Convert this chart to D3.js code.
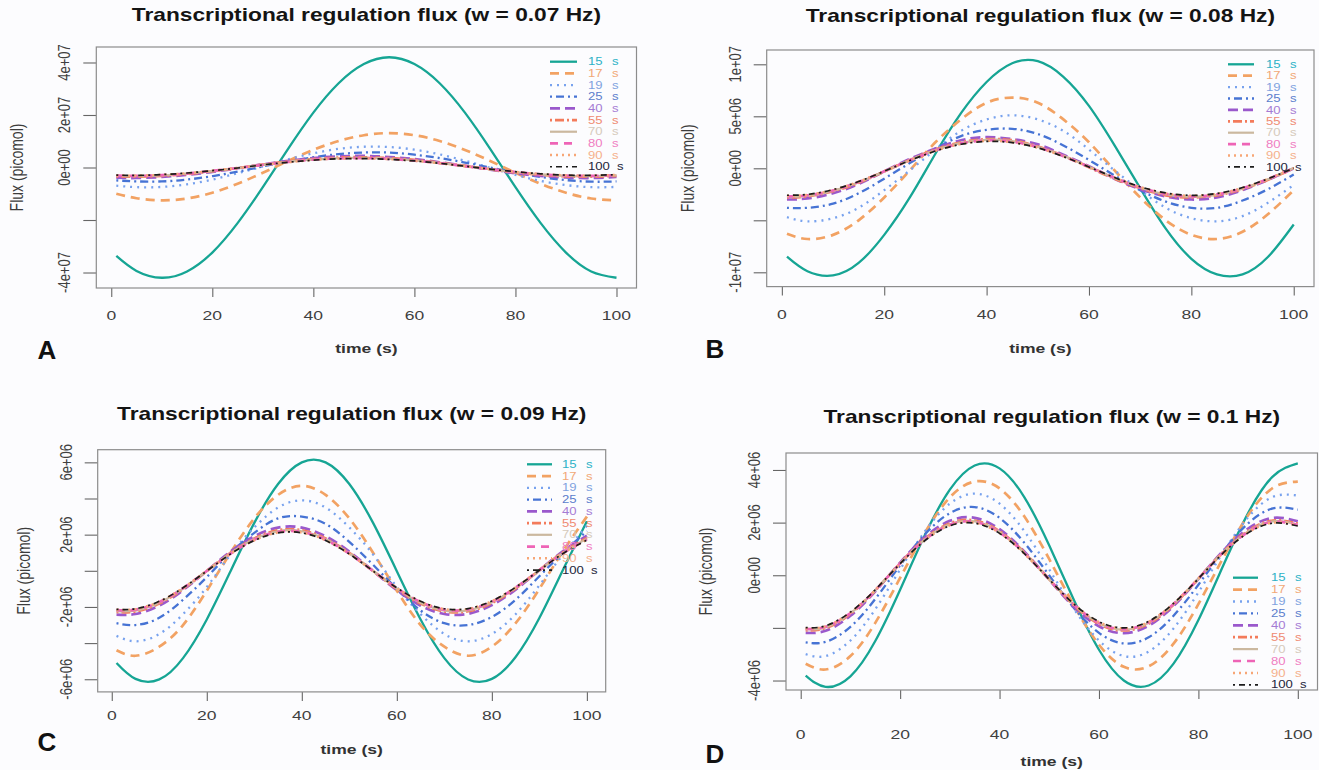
<!DOCTYPE html>
<html>
<head>
<meta charset="utf-8">
<script src="https://cdn.jsdelivr.net/npm/d3@7"></script>
<style>
  html, body { margin: 0; padding: 0; background: #fcfcfe; }
  svg { display: block; font-family: "Liberation Sans", Arial, Helvetica, sans-serif; }
</style>
</head>
<body>
<svg id="chart" width="1319" height="770"></svg>
<script>
// ---- data -------------------------------------------------------------
const timeSeconds = [1, 5, 10, 15, 20, 25, 30, 35, 40, 45, 50, 55, 60, 65, 70, 75, 80, 85, 90, 95, 100];
const delayLabels = ["15", "17", "19", "25", "40", "55", "70", "80", "90", "100"];
const panelLetters = ["A", "B", "C", "D"];
const frequencies = ["0.07", "0.08", "0.09", "0.1"];
const timeTicks = [0, 20, 40, 60, 80, 100];

// flux tick values are in units of 1e6 picomol
const fluxTicksA = [-40, -20, 0, 20, 40];
const fluxTickLabelsA = ["-4e+07", "", "0e+00", "2e+07", "4e+07"];
const fluxTicksB = [-10, -5, 0, 5, 10];
const fluxTickLabelsB = ["-1e+07", "", "0e+00", "5e+06", "1e+07"];
const fluxTicksC = [-6, -4, -2, 0, 2, 4, 6];
const fluxTickLabelsC = ["-6e+06", "", "-2e+06", "", "2e+06", "", "6e+06"];
const fluxTicksD = [-4, -2, 0, 2, 4];
const fluxTickLabelsD = ["-4e+06", "", "0e+00", "2e+06", "4e+06"];

// flux (1e6 picomol) at each time point, one row per delay (15 s ... 100 s)
const fluxA = [
  [-33.7, -39.4, -42.0, -39.6, -32.4, -21.2, -7.5, 7.1, 20.9, 32.1, 39.4, 42.0, 39.4, 32.1, 20.9, 7.1, -7.5, -21.2, -32.4, -39.6, -42.0],
  [-10.0, -11.7, -12.5, -11.8, -9.6, -6.2, -2.0, 2.5, 6.7, 10.1, 12.3, 13.1, 12.3, 10.1, 6.7, 2.5, -2.0, -6.2, -9.6, -11.8, -12.5],
  [-6.9, -7.5, -7.4, -6.4, -4.6, -2.2, 0.4, 3.1, 5.4, 7.1, 7.9, 7.8, 6.8, 5.0, 2.6, -0.1, -2.8, -5.1, -6.7, -7.5, -7.4],
  [-4.9, -5.3, -5.3, -4.6, -3.3, -1.6, 0.4, 2.3, 3.9, 5.1, 5.7, 5.7, 4.9, 3.6, 1.9, 0.0, -1.9, -3.6, -4.8, -5.4, -5.3],
  [-3.9, -4.0, -3.6, -2.8, -1.7, -0.3, 1.2, 2.5, 3.6, 4.2, 4.4, 4.0, 3.2, 2.0, 0.6, -0.8, -2.2, -3.2, -3.8, -4.0, -3.6],
  [-3.4, -3.5, -3.2, -2.5, -1.4, -0.2, 1.1, 2.3, 3.2, 3.8, 3.9, 3.6, 2.9, 1.8, 0.6, -0.7, -1.9, -2.8, -3.4, -3.5, -3.2],
  [-3.2, -3.3, -3.0, -2.3, -1.4, -0.2, 1.0, 2.2, 3.0, 3.6, 3.7, 3.4, 2.7, 1.7, 0.6, -0.7, -1.8, -2.6, -3.2, -3.3, -3.0],
  [-3.1, -3.2, -2.9, -2.3, -1.3, -0.2, 1.0, 2.1, 3.0, 3.5, 3.6, 3.3, 2.6, 1.7, 0.5, -0.6, -1.7, -2.6, -3.1, -3.2, -2.9],
  [-3.0, -3.1, -2.8, -2.2, -1.3, -0.2, 1.0, 2.0, 2.9, 3.4, 3.5, 3.2, 2.6, 1.6, 0.5, -0.6, -1.7, -2.5, -3.0, -3.1, -2.8],
  [-2.9, -3.0, -2.7, -2.1, -1.2, -0.2, 1.0, 2.0, 2.8, 3.3, 3.4, 3.1, 2.5, 1.6, 0.5, -0.6, -1.6, -2.4, -2.9, -3.0, -2.7]
];
const fluxB = [
  [-8.5, -9.9, -10.3, -9.1, -6.4, -2.8, 1.4, 5.3, 8.3, 10.1, 10.3, 8.8, 6.0, 2.2, -1.9, -5.8, -8.7, -10.2, -10.2, -8.5, -5.4],
  [-6.3, -6.8, -6.4, -5.0, -2.8, -0.2, 2.5, 4.7, 6.3, 6.8, 6.3, 4.7, 2.5, -0.2, -2.8, -5.0, -6.4, -6.8, -6.1, -4.4, -2.1],
  [-4.7, -5.1, -4.8, -3.8, -2.1, -0.2, 1.8, 3.6, 4.7, 5.1, 4.7, 3.6, 1.8, -0.2, -2.1, -3.8, -4.8, -5.1, -4.6, -3.3, -1.6],
  [-3.8, -3.8, -3.4, -2.4, -1.0, 0.5, 1.9, 3.1, 3.7, 3.8, 3.3, 2.2, 0.8, -0.7, -2.1, -3.2, -3.8, -3.8, -3.1, -2.0, -0.6],
  [-3.0, -2.9, -2.4, -1.5, -0.3, 0.9, 1.9, 2.7, 3.0, 2.8, 2.3, 1.3, 0.2, -1.0, -2.0, -2.7, -3.0, -2.8, -2.1, -1.1, 0.0],
  [-2.8, -2.7, -2.2, -1.4, -0.3, 0.8, 1.8, 2.5, 2.8, 2.7, 2.1, 1.2, 0.1, -1.0, -1.9, -2.6, -2.8, -2.6, -2.0, -1.1, 0.0],
  [-2.74, -2.66, -2.17, -1.34, -0.3, 0.79, 1.75, 2.44, 2.74, 2.61, 2.07, 1.2, 0.14, -0.94, -1.87, -2.51, -2.75, -2.55, -1.96, -1.05, 0.02],
  [-2.69, -2.61, -2.13, -1.32, -0.29, 0.77, 1.72, 2.39, 2.69, 2.56, 2.03, 1.17, 0.14, -0.92, -1.84, -2.46, -2.7, -2.51, -1.92, -1.03, 0.02],
  [-2.64, -2.56, -2.09, -1.29, -0.29, 0.76, 1.69, 2.35, 2.64, 2.51, 1.99, 1.15, 0.14, -0.91, -1.8, -2.42, -2.65, -2.46, -1.89, -1.01, 0.02],
  [-2.59, -2.51, -2.05, -1.27, -0.28, 0.75, 1.66, 2.31, 2.59, 2.47, 1.96, 1.13, 0.13, -0.89, -1.77, -2.37, -2.6, -2.42, -1.85, -1.0, 0.02]
];
const fluxC = [
  [-5.1, -5.98, -6.01, -4.83, -2.69, -0.02, 2.65, 4.8, 6.0, 6.0, 4.8, 2.65, -0.02, -2.69, -4.83, -6.01, -5.98, -4.77, -2.61, 0.07, 2.74],
  [-4.4, -4.7, -4.2, -3.0, -1.1, 1.0, 2.9, 4.2, 4.7, 4.2, 2.9, 1.0, -1.1, -3.0, -4.2, -4.7, -4.2, -2.9, -1.0, 1.1, 3.0],
  [-3.6, -3.9, -3.5, -2.4, -0.9, 0.9, 2.4, 3.5, 3.9, 3.5, 2.4, 0.9, -0.9, -2.4, -3.5, -3.9, -3.5, -2.4, -0.8, 0.9, 2.5],
  [-2.9, -3.0, -2.6, -1.6, -0.35, 1.0, 2.1, 2.9, 3.0, 2.6, 1.6, 0.33, -1.0, -2.2, -2.9, -3.0, -2.55, -1.6, -0.3, 1.0, 2.2],
  [-2.43, -2.39, -1.93, -1.07, -0.01, 1.06, 1.91, 2.39, 2.39, 1.91, 1.06, -0.01, -1.07, -1.93, -2.39, -2.38, -1.9, -1.04, 0.03, 1.09, 1.94],
  [-2.28, -2.25, -1.81, -1.01, -0.01, 0.99, 1.79, 2.24, 2.24, 1.79, 0.99, -0.01, -1.01, -1.81, -2.25, -2.24, -1.78, -0.98, 0.03, 1.03, 1.82],
  [-2.23, -2.2, -1.77, -0.99, -0.01, 0.97, 1.76, 2.19, 2.19, 1.76, 0.97, -0.01, -0.99, -1.77, -2.2, -2.19, -1.74, -0.95, 0.03, 1.0, 1.78],
  [-2.18, -2.15, -1.73, -0.96, -0.01, 0.95, 1.72, 2.15, 2.15, 1.72, 0.95, -0.01, -0.96, -1.73, -2.15, -2.14, -1.71, -0.93, 0.03, 0.98, 1.74],
  [-2.15, -2.12, -1.71, -0.95, -0.01, 0.94, 1.69, 2.12, 2.12, 1.69, 0.94, -0.01, -0.95, -1.71, -2.12, -2.11, -1.68, -0.92, 0.03, 0.97, 1.72],
  [-2.13, -2.1, -1.69, -0.94, -0.01, 0.93, 1.68, 2.1, 2.1, 1.68, 0.93, -0.01, -0.94, -1.69, -2.1, -2.09, -1.67, -0.91, 0.03, 0.96, 1.7]
];
const fluxD = [
  [-3.81, -4.24, -3.84, -2.5, -0.55, 1.54, 3.25, 4.17, 4.06, 2.96, 1.13, -0.96, -2.83, -4.0, -4.19, -3.36, -1.7, 0.37, 2.36, 3.76, 4.25],
  [-3.36, -3.58, -3.07, -1.81, -0.1, 1.62, 2.96, 3.56, 3.3, 2.23, 0.61, -1.16, -2.64, -3.48, -3.46, -2.6, -1.1, 0.67, 2.28, 3.32, 3.56],
  [-3.0, -3.07, -2.48, -1.29, 0.22, 1.67, 2.72, 3.1, 2.72, 1.67, 0.22, -1.29, -2.48, -3.07, -2.9, -2.02, -0.65, 0.88, 2.2, 2.98, 3.03],
  [-2.55, -2.53, -1.96, -0.9, 0.38, 1.56, 2.36, 2.59, 2.18, 1.23, -0.01, -1.25, -2.19, -2.59, -2.36, -1.54, -0.36, 0.92, 1.97, 2.54, 2.49],
  [-2.19, -2.11, -1.54, -0.61, 0.48, 1.45, 2.07, 2.18, 1.75, 0.9, -0.17, -1.21, -1.94, -2.2, -1.92, -1.17, -0.14, 0.93, 1.77, 2.18, 2.05],
  [-2.09, -2.01, -1.47, -0.58, 0.46, 1.39, 1.97, 2.08, 1.67, 0.86, -0.16, -1.15, -1.85, -2.1, -1.84, -1.12, -0.13, 0.89, 1.69, 2.08, 1.96],
  [-2.06, -1.98, -1.45, -0.57, 0.45, 1.37, 1.94, 2.05, 1.65, 0.84, -0.16, -1.13, -1.82, -2.07, -1.81, -1.1, -0.13, 0.88, 1.67, 2.05, 1.93],
  [-2.04, -1.96, -1.44, -0.57, 0.45, 1.35, 1.92, 2.03, 1.63, 0.84, -0.16, -1.12, -1.81, -2.05, -1.79, -1.09, -0.13, 0.87, 1.65, 2.03, 1.91],
  [-2.01, -1.94, -1.42, -0.56, 0.44, 1.33, 1.9, 2.0, 1.61, 0.82, -0.16, -1.11, -1.78, -2.02, -1.77, -1.08, -0.13, 0.86, 1.63, 2.0, 1.89],
  [-1.99, -1.92, -1.4, -0.55, 0.44, 1.32, 1.88, 1.98, 1.59, 0.82, -0.16, -1.1, -1.76, -2.0, -1.75, -1.07, -0.13, 0.85, 1.61, 1.98, 1.87]
];

// ---- styles ------------------------------------------------------------
const seriesStyles = [
  { color: "#16a594", text: "#2cb2c6", width: 2.3, dash: null },
  { color: "#f2a263", text: "#f1a877", width: 2.7, dash: "9,6" },
  { color: "#78a2ee", text: "#7fa2de", width: 2.3, dash: "2,5" },
  { color: "#4673d4", text: "#5b7ccc", width: 2.3, dash: "2,4,8,4" },
  { color: "#9a58cc", text: "#a57bd4", width: 2.7, dash: "10,5" },
  { color: "#f37b5b", text: "#ef8a72", width: 2.7, dash: "2,3,9,3" },
  { color: "#cbb89f", text: "#d6cabb", width: 2.2, dash: null },
  { color: "#ee64b6", text: "#f07ec2", width: 2.7, dash: "8,6" },
  { color: "#f7a676", text: "#f5b08c", width: 2.5, dash: "2,4" },
  { color: "#1c1c1c", text: "#22243a", width: 1.7, dash: "2,4,6,4" }
];

const SX = 1.3;          // horizontal stretch of the figure's lettering
const xPad = 0.04 * 99;  // 4% extension of the time range on both sides

const panels = [
  { letter: panelLetters[0], freq: frequencies[0], rows: fluxA, ticks: fluxTicksA, tickLabels: fluxTickLabelsA,
    yDomain: [-45.9, 45.9], box: { x0: 96.3, x1: 636.5, y0: 47, y1: 288 }, titleY: 15,
    xLabY: 315, xTitleY: 348.5, letterXY: [47, 350], yTitleDx: 80,
    legend: { x: 550, y: 61.7, dy: 11.67, len: 27, tx: 588 } },
  { letter: panelLetters[1], freq: frequencies[1], rows: fluxB, ticks: fluxTicksB, tickLabels: fluxTickLabelsB,
    yDomain: [-11.375, 11.375], box: { x0: 766.7, x1: 1314, y0: 50, y1: 286.6 }, titleY: 16,
    xLabY: 314, xTitleY: 348, letterXY: [715, 349], yTitleDx: 79,
    legend: { x: 1228, y: 64.3, dy: 11.4, len: 26, tx: 1266 } },
  { letter: panelLetters[2], freq: frequencies[2], rows: fluxC, ticks: fluxTicksC, tickLabels: fluxTickLabelsC,
    yDomain: [-6.7, 6.7], box: { x0: 97.7, x1: 605.7, y0: 449.7, y1: 691.9 }, titleY: 414,
    xLabY: 715, xTitleY: 749, letterXY: [47, 742], yTitleDx: 74,
    legend: { x: 527, y: 464.3, dy: 11.75, len: 25, tx: 562 } },
  { letter: panelLetters[3], freq: frequencies[3], rows: fluxD, ticks: fluxTicksD, tickLabels: fluxTickLabelsD,
    yDomain: [-4.36, 4.645], box: { x0: 786, x1: 1317.5, y0: 453, y1: 690 }, titleY: 417,
    xLabY: 734, xTitleY: 761, letterXY: [715, 754], yTitleDx: 80,
    legend: { x: 1233, y: 577.7, dy: 11.9, len: 25, tx: 1271 } }
];

// ---- drawing -------------------------------------------------------------
const svg = d3.select("#chart");
svg.append("rect").attr("width", 1319).attr("height", 770).attr("fill", "#fcfcfe");

function stretchedText(g, x, y, str, o) {
  const rot = o.rotate ? " rotate(-90)" : "";
  return g.append("text")
    .attr("transform", `translate(${x},${y}) scale(${o.sx ?? SX},1)${rot}`)
    .attr("text-anchor", o.anchor || "middle")
    .attr("dy", "0.35em")
    .style("font-size", o.size + "px")
    .style("font-weight", o.weight || "normal")
    .attr("fill", o.fill || "#444")
    .text(str);
}

panels.forEach((p, pi) => {
  const g = svg.append("g");
  const { x0, x1, y0, y1 } = p.box;
  const x = d3.scaleLinear().domain([1 - xPad, 100 + xPad]).range([x0, x1]);
  const y = d3.scaleLinear().domain(p.yDomain).range([y1, y0]);

  const clipId = "clip" + pi;
  g.append("clipPath").attr("id", clipId)
    .append("rect").attr("x", x0).attr("y", y0).attr("width", x1 - x0).attr("height", y1 - y0);

  // title
  stretchedText(g, (x0 + x1) / 2, p.titleY, `Transcriptional regulation flux (w = ${p.freq} Hz)`,
    { size: 17.5, weight: "bold", fill: "#141414" });

  // axes: tick marks from d3 axes, labels drawn stretched
  const xAxis = g.append("g").attr("transform", `translate(0,${y1})`)
    .call(d3.axisBottom(x).tickValues(timeTicks).tickSize(9).tickFormat(""));
  const yAxis = g.append("g").attr("transform", `translate(${x0},0)`)
    .call(d3.axisLeft(y).tickValues(p.ticks).tickSize(13).tickFormat(""));
  [xAxis, yAxis].forEach(a => {
    a.select(".domain").remove();
    a.selectAll("line").attr("stroke", "#666").attr("stroke-width", 1.1);
  });

  timeTicks.forEach(t => stretchedText(g, x(t), p.xLabY, String(t), { size: 13.5, fill: "#404040" }));
  p.ticks.forEach((v, i) => {
    if (p.tickLabels[i]) {
      stretchedText(g, x0 - 32, y(v), p.tickLabels[i], { size: 13, fill: "#404040", rotate: true });
    }
  });

  stretchedText(g, (x0 + x1) / 2, p.xTitleY, "time (s)", { size: 13.5, weight: "bold", fill: "#333" });
  stretchedText(g, x0 - p.yTitleDx, (y0 + y1) / 2, "Flux (picomol)", { size: 14, fill: "#3c3c3c", rotate: true });

  // panel letter
  g.append("text").attr("x", p.letterXY[0]).attr("y", p.letterXY[1]).attr("dy", "0.35em")
    .attr("text-anchor", "middle").style("font-size", "26px").style("font-weight", "bold")
    .attr("fill", "#111").text(p.letter);

  // curves
  const line = d3.line()
    .x((d, i) => x(timeSeconds[i]))
    .y(d => y(d))
    .curve(d3.curveNatural);
  const curves = g.append("g").attr("clip-path", `url(#${clipId})`);
  p.rows.forEach((row, si) => {
    const s = seriesStyles[si];
    curves.append("path").datum(row)
      .attr("d", line)
      .attr("fill", "none")
      .attr("stroke", s.color)
      .attr("stroke-width", s.width)
      .attr("stroke-dasharray", s.dash)
      .attr("stroke-linejoin", "round");
  });

  // plot frame
  g.append("rect").attr("x", x0).attr("y", y0).attr("width", x1 - x0).attr("height", y1 - y0)
    .attr("fill", "none").attr("stroke", "#8c8c8c").attr("stroke-width", 1.2);

  // legend
  const L = p.legend;
  delayLabels.forEach((lab, si) => {
    const s = seriesStyles[si];
    const ly = L.y + si * L.dy;
    g.append("line").attr("x1", L.x).attr("x2", L.x + L.len).attr("y1", ly).attr("y2", ly)
      .attr("stroke", s.color).attr("stroke-width", s.width).attr("stroke-dasharray", s.dash);
    stretchedText(g, L.tx, ly, lab, { size: 10.5, fill: s.text, anchor: "start", sx: 1.25 });
    stretchedText(g, L.tx + (lab.length === 3 ? 29 : 24), ly, "s", { size: 10.5, fill: s.text, anchor: "start", sx: 1.25 });
  });
});
</script>
</body>
</html>
